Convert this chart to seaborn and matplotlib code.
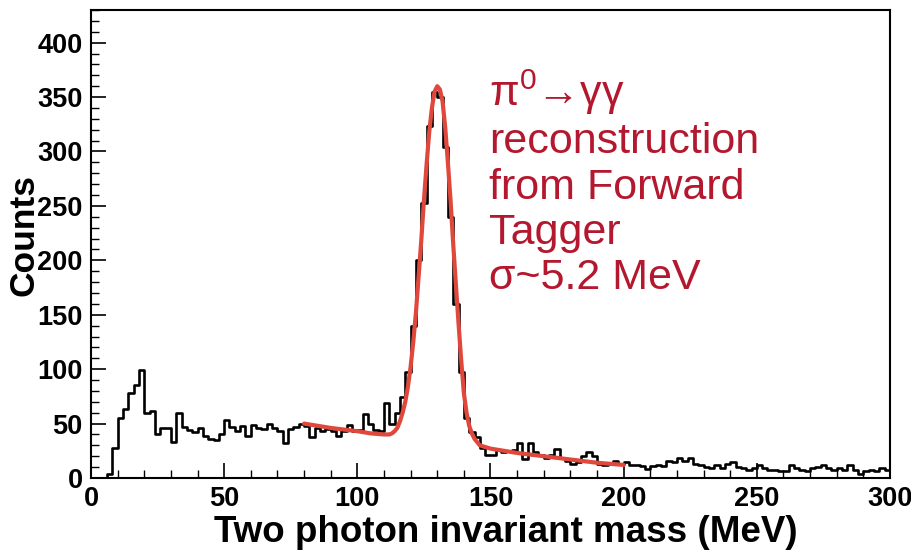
import numpy as np
import pandas as pd
import matplotlib
matplotlib.use("Agg")
import matplotlib.pyplot as plt
from matplotlib import font_manager
import seaborn as sns

# ---- data ----
bin_width = 2.0  # MeV
counts = [
    0, 0, 0, 4, 28, 55, 63, 78, 85, 99,
    60, 62, 40, 46, 46, 33, 60, 47, 44, 42,
    46, 39, 36, 35, 40, 53, 47, 43, 48, 39,
    49, 46, 45, 50, 46, 43, 32, 45, 47, 50,
    48, 38, 46, 43, 45, 43, 39, 43, 49, 43,
    44, 59, 50, 44, 43, 69, 50, 60, 74, 97,
    140, 200, 253, 323, 355, 350, 304, 240, 160, 97,
    55, 42, 38, 28, 21, 21, 26, 24, 25, 26,
    32, 17, 32, 24, 21, 18, 21, 27, 18, 16,
    13, 15, 20, 24, 20, 13, 12, 13, 16, 13,
    15, 12, 12, 11, 8, 11, 12, 11, 16, 15,
    18, 16, 18, 13, 12, 10, 9, 12, 9, 13,
    15, 10, 9, 7, 9, 12, 9, 7, 7, 6,
    6, 12, 9, 7, 6, 9, 10, 12, 9, 7,
    9, 7, 12, 7, 4, 6, 7, 6, 9, 7,
]
fit_x = [80, 90, 100, 105, 110, 112, 113, 114, 115, 116, 117, 118, 119, 120,
         121, 122, 123, 124, 125, 126, 127, 128, 129, 130, 131, 132, 133,
         134, 135, 136, 137, 138, 139, 140, 141, 142, 143, 144, 146, 150,
         160, 170, 180, 190, 200]
fit_y = [50, 46, 43, 41, 40, 40, 41, 43, 46, 52, 60, 70, 84, 102,
         125, 152, 185, 218, 255, 288, 318, 340, 355, 360, 357, 346, 322,
         290, 255, 215, 178, 142, 108, 78, 60, 48, 41, 36, 30, 27,
         23, 20, 17, 14, 12]

annotation = "π$^{0}$→γγ\nreconstruction\nfrom Forward\nTagger\nσ~5.2 MeV"
x_label = "Two photon invariant mass (MeV)"
y_label = "Counts"
x_ticks = [0, 50, 100, 150, 200, 250, 300]
y_ticks = [0, 50, 100, 150, 200, 250, 300, 350, 400]

# ---- build table ----
n_bins = len(counts)
centers = (np.arange(n_bins) + 0.5) * bin_width
hist_df = pd.DataFrame({"mass": centers, "counts": np.asarray(counts, float)})
fit_df = pd.DataFrame({"mass": fit_x, "fit": fit_y})

sns.set_style("white")
plt.rcParams["font.family"] = ["Liberation Sans", "DejaVu Sans"]
plt.rcParams["mathtext.fontset"] = "custom"
plt.rcParams["mathtext.rm"] = "Liberation Sans"
plt.rcParams["mathtext.it"] = "Liberation Sans:italic"
plt.rcParams["mathtext.bf"] = "Liberation Sans:bold"

installed = {f.name for f in font_manager.fontManager.ttflist}
if "Liberation Sans Narrow" in installed:
    xlab_family, xlab_size = ["Liberation Sans Narrow", "DejaVu Sans"], 32
else:
    xlab_family, xlab_size = ["Liberation Sans", "DejaVu Sans"], 26.5

fig = plt.figure(figsize=(9.12, 5.55), dpi=100)
ax = fig.add_axes([91 / 912, 1 - 478 / 555, (890 - 91) / 912, (478 - 10) / 555])

sns.histplot(data=hist_df, x="mass", weights="counts", binwidth=bin_width,
             binrange=(0, n_bins * bin_width),
             element="step", fill=False, color="black", linewidth=1.9, ax=ax)
sns.lineplot(data=fit_df, x="mass", y="fit", color="#E0483C", linewidth=3.0,
             ax=ax, solid_capstyle="round", solid_joinstyle="round")

ax.set_xlim(0, 300)
ax.set_ylim(0, 430)
ax.set_xticks(x_ticks)
ax.set_yticks(y_ticks)
ax.set_xticks(np.arange(0, 301, 10), minor=True)
ax.set_yticks(np.arange(0, 431, 10), minor=True)
ax.tick_params(axis="both", which="both", bottom=True, left=True, top=False,
               right=False, direction="in", color="black")
ax.tick_params(axis="both", which="major", length=11, width=1.2,
               labelsize=19.5, labelcolor="black", pad=6)
ax.tick_params(axis="both", which="minor", length=6, width=1.0)
for lab in ax.get_xticklabels() + ax.get_yticklabels():
    lab.set_fontweight("bold")
for s in ax.spines.values():
    s.set_color("black")
    s.set_linewidth(1.5)

ax.set_xlabel("")
ax.set_ylabel(y_label, fontsize=25.5, fontweight="bold", color="black")
ax.yaxis.set_label_coords((40 - 91) / 799, 0.52)
fig.text(506 / 912, 1 - 533 / 555, x_label, family=xlab_family,
         fontsize=xlab_size, fontweight="bold", color="black",
         ha="center", va="center")

ax.text(149.5, 377, annotation, color="#B3182F", fontsize=31, va="top",
        ha="left", linespacing=1.17)

fig.savefig("out.png", dpi=100)
